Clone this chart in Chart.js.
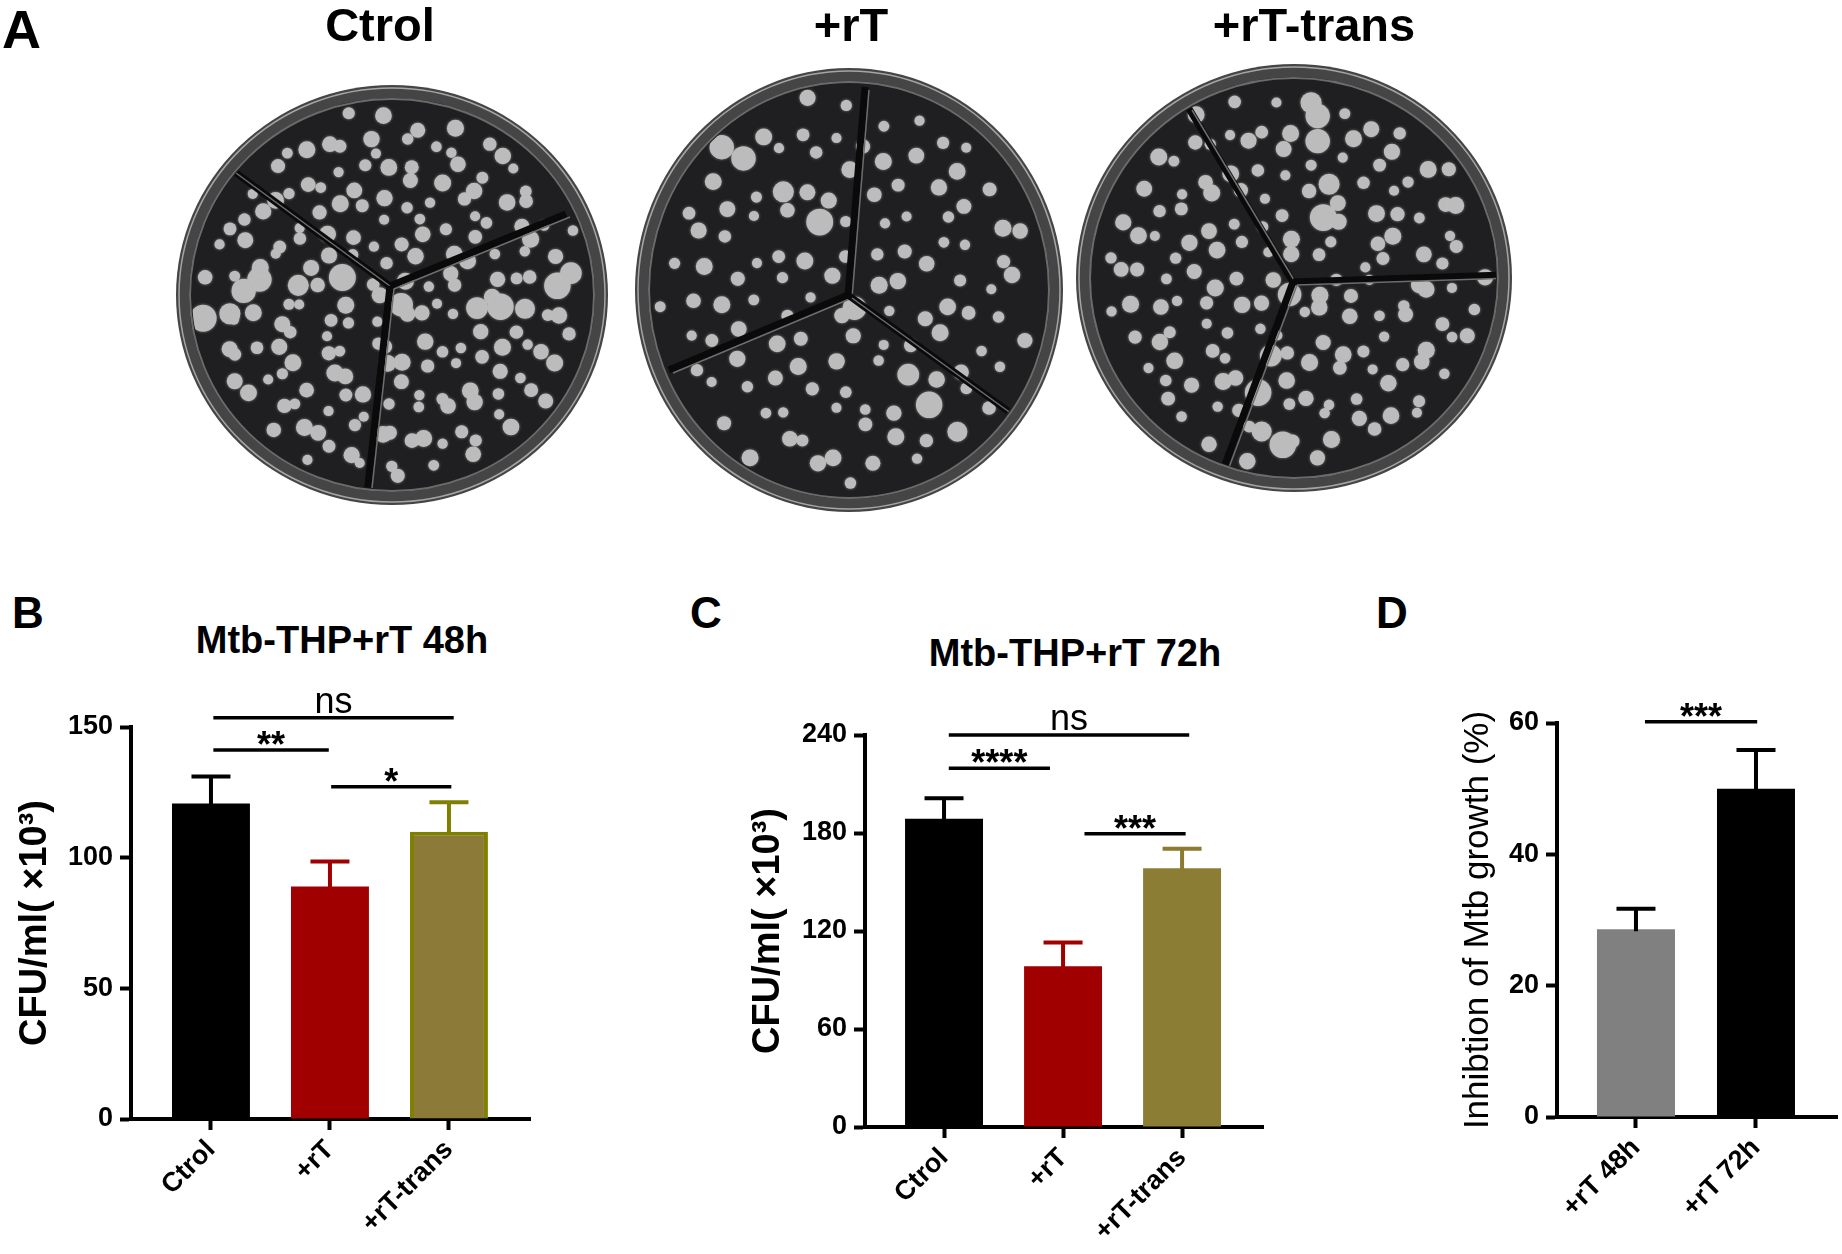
<!DOCTYPE html>
<html>
<head>
<meta charset="utf-8">
<script src="https://cdn.jsdelivr.net/npm/chart.js@4.4.1/dist/chart.umd.min.js"></script>
<style>
  html, body { margin: 0; padding: 0; background: #fff; }
  body { width: 1842px; height: 1254px; position: relative; overflow: hidden;
         font-family: 'Liberation Sans', Arial, sans-serif; }
  canvas { position: absolute; }
  .lbl { position: absolute; font-weight: bold; line-height: 1; white-space: nowrap; color: #000; }
</style>
</head>
<body>
<canvas id="plates" width="1842" height="560" style="left:0;top:0"></canvas>
<div class="lbl" style="left:2px;top:2px;font-size:54px">A</div>
<div class="lbl" style="left:380px;top:1px;font-size:47px;transform:translateX(-50%)">Ctrol</div>
<div class="lbl" style="left:851px;top:1px;font-size:47px;transform:translateX(-50%)">+rT</div>
<div class="lbl" style="left:1314px;top:1px;font-size:47px;transform:translateX(-50%)">+rT-trans</div>

<div class="lbl" style="left:12px;top:591px;font-size:44px">B</div>
<div class="lbl" style="left:690px;top:591px;font-size:44px">C</div>
<div class="lbl" style="left:1376px;top:591px;font-size:44px">D</div>
<div class="lbl" style="left:342px;top:621px;font-size:38px;transform:translateX(-50%)">Mtb-THP+rT 48h</div>
<div class="lbl" style="left:1075px;top:634px;font-size:38px;transform:translateX(-50%)">Mtb-THP+rT 72h</div>

<canvas id="chartB" width="640" height="674" style="left:0;top:580px"></canvas>
<canvas id="chartC" width="640" height="674" style="left:680px;top:580px"></canvas>
<canvas id="chartD" width="462" height="674" style="left:1380px;top:580px"></canvas>

<script>
// ---- data ----
const groups = ['Ctrol', '+rT', '+rT-trans'];
const meansB = [120.7, 89.0, 109.9];
const errB = [10.4, 9.5, 11.3];
const ticksB = [0, 50, 100, 150];

const meansC = [188.7, 98.4, 158.4];
const errC = [12.6, 14.5, 11.9];
const ticksC = [0, 60, 120, 180, 240];

const groupsD = ['+rT 48h', '+rT 72h'];
const meansD = [28.6, 50.0];
const errD = [3.1, 5.9];
const ticksD = [0, 20, 40, 60];

// significance brackets: [from, to, level, label]
const sigB = [[0.02, 2.04, 153.5, 'ns'], [0.02, 0.99, 141.2, '**'], [1.01, 2.02, 127.1, '*']];
const sigC = [[0.04, 2.06, 240, 'ns'], [0.04, 0.89, 219.7, '****'], [1.18, 2.03, 179.5, '***']];
const sigD = [[0.075, 1.01, 60.2, '***']];

Chart.defaults.font.family = "'Liberation Sans', Arial, sans-serif";
Chart.defaults.color = '#000';

// error bars (upper only) + significance lines
const extras = {
  id: 'extras',
  afterDatasetsDraw(chart, args, opts) {
    const ctx = chart.ctx;
    const xs = chart.scales.x, ys = chart.scales.y;
    const meta = chart.getDatasetMeta(0);
    ctx.save();
    ctx.lineWidth = 4;
    ctx.lineCap = 'butt';
    meta.data.forEach((bar, i) => {
      const top = ys.getPixelForValue(opts.means[i] + opts.errs[i]);
      const half = bar.width / 4;
      ctx.strokeStyle = opts.errColors[i];
      ctx.beginPath();
      ctx.moveTo(bar.x, bar.y + 2);
      ctx.lineTo(bar.x, top);
      ctx.moveTo(bar.x - half, top);
      ctx.lineTo(bar.x + half, top);
      ctx.stroke();
    });
    ctx.strokeStyle = '#000';
    ctx.fillStyle = '#000';
    ctx.lineWidth = 3.5;
    ctx.textAlign = 'center';
    ctx.textBaseline = 'alphabetic';
    opts.sig.forEach(([a, b, v, label]) => {
      const y = ys.getPixelForValue(v);
      const x1 = xs.getPixelForValue(a), x2 = xs.getPixelForValue(b);
      ctx.beginPath();
      ctx.moveTo(x1, y);
      ctx.lineTo(x2, y);
      ctx.stroke();
      if (label === 'ns') {
        ctx.font = "36px 'Liberation Sans', Arial, sans-serif";
        ctx.fillText(label, (x1 + x2) / 2, y - 5);
      } else {
        ctx.font = "bold 36px 'Liberation Sans', Arial, sans-serif";
        ctx.fillText(label, (x1 + x2) / 2, y + 7);
      }
    });
    ctx.restore();
  }
};

function makeBar(id, o) {
  new Chart(document.getElementById(id), {
    type: 'bar',
    data: {
      datasets: [{
        data: o.means.map((v, i) => ({ x: i, y: v })),
        backgroundColor: o.colors,
        borderColor: o.borders,
        borderWidth: o.borderWidth,
        barPercentage: o.barPct,
        categoryPercentage: 1
      }]
    },
    options: {
      responsive: false,
      devicePixelRatio: 1,
      animation: false,
      layout: { padding: { left: 0, top: o.top, right: o.right, bottom: 0 } },
      plugins: {
        legend: { display: false },
        tooltip: { enabled: false },
        extras: { means: o.means, errs: o.errs, errColors: o.errColors, sig: o.sig }
      },
      scales: {
        x: {
          type: 'linear',
          offset: false,
          min: o.xMin, max: o.xMax,
          afterFit: s => { s.height = o.xH; },
          afterBuildTicks: s => { s.ticks = o.labels.map((l, i) => ({ value: i })); },
          grid: { offset: false, drawOnChartArea: false, drawTicks: true, tickLength: 11, tickWidth: 4, tickColor: '#000' },
          border: { display: true, width: 4, color: '#000' },
          ticks: {
            autoSkip: false, minRotation: 45, maxRotation: 45, padding: 4,
            font: { size: 27, weight: 'bold' },
            callback: v => o.labels[v] ?? ''
          }
        },
        y: {
          min: 0, max: o.yTicks[o.yTicks.length - 1],
          afterFit: s => { s.width = o.yW; },
          afterBuildTicks: s => { s.ticks = o.yTicks.map(v => ({ value: v })); },
          grid: { drawOnChartArea: false, drawTicks: true, tickLength: 11, tickWidth: 4, tickColor: '#000' },
          border: { display: true, width: 4, color: '#000' },
          ticks: { padding: 7, font: { size: 27, weight: 'bold' } },
          title: {
            display: true, text: o.yTitle,
            font: { size: o.yTitleSize, weight: o.yTitleWeight },
            padding: { top: o.yTitlePad, bottom: 0 }
          }
        }
      }
    },
    plugins: [extras]
  });
}

makeBar('chartB', {
  labels: groups, means: meansB, errs: errB, yTicks: ticksB, sig: sigB,
  colors: ['#000000', '#a00000', '#8c7b38'],
  borders: ['#000000', '#a00000', '#808000'], borderWidth: [0, 0, 4],
  errColors: ['#000000', '#a00000', '#808000'],
  barPct: 0.655, xMin: -0.672, xMax: 2.681,
  top: 147, right: 110, xH: 135, yW: 131,
  yTitle: 'CFU/ml( \u00d710\u00b3)', yTitleSize: 38, yTitleWeight: 'bold', yTitlePad: 13
});

makeBar('chartC', {
  labels: groups, means: meansC, errs: errC, yTicks: ticksC, sig: sigC,
  colors: ['#000000', '#a00000', '#8c7d35'],
  borders: ['#000000', '#a00000', '#8c7d35'], borderWidth: 0,
  errColors: ['#000000', '#a00000', '#8b7a2f'],
  barPct: 0.655, xMin: -0.664, xMax: 2.68,
  top: 155, right: 57, xH: 127, yW: 185,
  yTitle: 'CFU/ml( \u00d710\u00b3)', yTitleSize: 38, yTitleWeight: 'bold', yTitlePad: 66
});

makeBar('chartD', {
  labels: groupsD, means: meansD, errs: errD, yTicks: ticksD, sig: sigD,
  colors: ['#808080', '#000000'],
  borders: ['#808080', '#000000'], borderWidth: 0,
  errColors: ['#000000', '#000000'],
  barPct: 0.65, xMin: -0.658, xMax: 1.675,
  top: 143, right: 5, xH: 137, yW: 177,
  yTitle: 'Inhibtion of Mtb growth (%)', yTitleSize: 35, yTitleWeight: 'normal', yTitlePad: 77
});

// ---- panel A: stand-in drawing of the three plates ----
const pc = document.getElementById('plates').getContext('2d');

function drawPlate(cx, cy, rx, ry, meet, ends, count, phase) {
  pc.save();
  pc.fillStyle = '#454545';
  pc.beginPath(); pc.ellipse(cx, cy, rx, ry, 0, 0, Math.PI * 2); pc.fill();
  pc.strokeStyle = '#a5a5a5'; pc.lineWidth = 1.5;
  pc.beginPath(); pc.ellipse(cx, cy, rx - 3, ry - 3, 0, 0, Math.PI * 2); pc.stroke();
  pc.fillStyle = '#1f1f22';
  pc.beginPath(); pc.ellipse(cx, cy, rx - 13, ry - 13, 0, 0, Math.PI * 2); pc.fill();
  pc.strokeStyle = '#6a6a6a'; pc.lineWidth = 2;
  pc.beginPath(); pc.ellipse(cx, cy, rx - 14, ry - 14, 0, 0, Math.PI * 2); pc.stroke();

  pc.beginPath(); pc.ellipse(cx, cy, rx - 16, ry - 16, 0, 0, Math.PI * 2); pc.clip();
  pc.fillStyle = '#bcbcbc';
  pc.shadowColor = 'rgba(200,200,200,0.6)';
  pc.shadowBlur = 3;
  for (let k = 0; k < count; k++) {
    const t = Math.sqrt((k + 0.5) / count) * 0.95;
    const a = k * 2.39996 + phase;
    const jx = 7 * Math.sin(k * 12.9898), jy = 7 * Math.cos(k * 78.233);
    const x = cx + t * (rx - 18) * Math.cos(a) + jx;
    const y = cy + t * (ry - 18) * Math.sin(a) + jy;
    const r = 5 + 3.5 * (0.5 + 0.5 * Math.sin(k * 7.13)) + (k % 17 === 0 ? 5 : 0);
    pc.beginPath(); pc.arc(x, y, r, 0, Math.PI * 2); pc.fill();
  }
  pc.shadowBlur = 0;

  ends.forEach(([ex, ey]) => {
    pc.strokeStyle = '#0a0a0a'; pc.lineWidth = 7;
    pc.beginPath(); pc.moveTo(meet[0], meet[1]); pc.lineTo(ex, ey); pc.stroke();
    pc.strokeStyle = '#6d6d6d'; pc.lineWidth = 1.5;
    pc.beginPath(); pc.moveTo(meet[0] + 4, meet[1] + 3); pc.lineTo(ex + 4, ey + 3); pc.stroke();
  });
  pc.restore();
}

drawPlate(392, 295, 216, 210, [390, 286], [[232, 170], [566, 214], [367, 494]], 190, 0.3);
drawPlate(849, 290, 214, 222, [848, 295], [[865, 87], [669, 370], [1008, 411]], 120, 1.1);
drawPlate(1294, 278, 218, 214, [1293, 282], [[1188, 107], [1505, 275], [1220, 478]], 160, 2.0);
</script>
</body>
</html>
